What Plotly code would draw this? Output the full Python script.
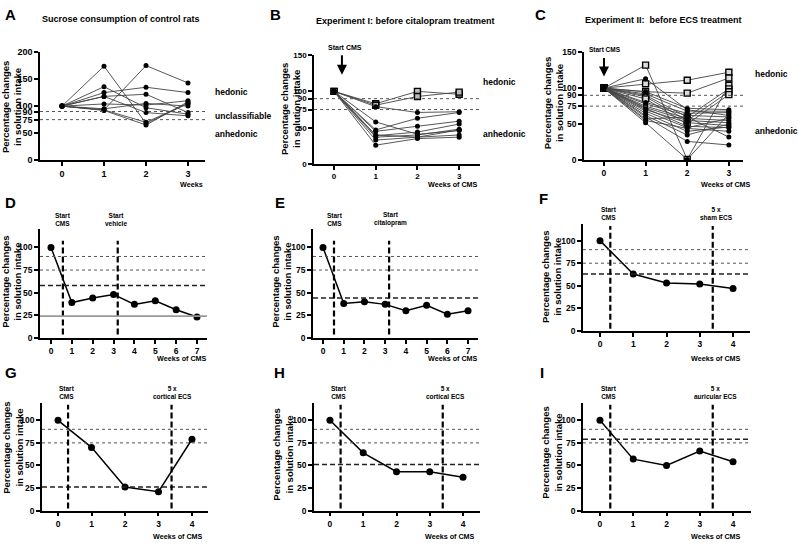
import plotly.graph_objects as go

# ---- data ----
weeks_abc = [0, 1, 2, 3]
ctrl_rats = [
    [100, 174, 68, 105], [100, 93, 175, 143], [100, 136, 97, 85], [100, 125, 135, 125],
    [100, 118, 122, 88], [100, 104, 102, 110], [100, 95, 105, 100], [100, 92, 65, 108],
    [100, 93, 70, 105], [100, 118, 88, 82],
]
exp1_hedonic = [[100, 83, 100, 96], [100, 81, 93, 99]]
exp1_anhedonic = [
    [100, 79, 71, 72], [100, 58, 41, 46], [100, 47, 63, 71], [100, 45, 52, 59],
    [100, 39, 44, 55], [100, 37, 40, 48], [100, 33, 37, 40], [100, 26, 35, 37],
    [100, 40, 37, 47],
]
exp2_hedonic = [
    [100, 132, 1, 104], [100, 106, 111, 122], [100, 95, 93, 114],
    [100, 90, 60, 99], [100, 88, 55, 95], [100, 85, 50, 91],
]
exp2_anhedonic = [
    [100, 113, 70, 62], [100, 95, 72, 70], [100, 92, 68, 68], [100, 80, 65, 66],
    [100, 78, 62, 60], [100, 75, 58, 55], [100, 73, 55, 52], [100, 72, 47, 45],
    [100, 70, 52, 48], [100, 68, 45, 58], [100, 65, 40, 46], [100, 62, 35, 50],
    [100, 60, 26, 21], [100, 57, 60, 32], [100, 55, 44, 40], [100, 52, 1, 64],
]

weeks_de = [0, 1, 2, 3, 4, 5, 6, 7]
vehicle = [100, 39, 44, 48, 37, 41, 31, 23]
citalopram = [100, 38, 40, 37, 30, 36, 26, 30]
weeks_fi = [0, 1, 2, 3, 4]
sham_ecs = [100, 63, 53, 52, 47]
cortical_g = [100, 70, 26, 21, 79]
cortical_h = [100, 64, 43, 43, 37]
auricular = [100, 57, 50, 66, 54]

# cut-off (dashed) levels and start of treatment
cutoffs = {"D": 58, "E": 44, "F": 63, "G": 26, "H": 51, "I": 79}
start_cms = {"D": 0.57, "E": 0.53, "F": 0.31, "G": 0.3, "H": 0.32, "I": 0.31}
start_treat = {"D": 3.2, "E": 3.19, "F": 3.39, "G": 3.39, "H": 3.39, "I": 3.39}
treat_label = {"D": "Start<br>vehicle", "E": "Start<br>citalopram", "F": "5 x<br>sham ECS",
               "G": "5 x<br>cortical ECS", "H": "5 x<br>cortical ECS", "I": "5 x<br>auricular ECS"}

W, H = 798, 547
FONT = "Liberation Sans, Arial, sans-serif"

def px(x):
    return x / W

def py(y):
    return 1 - y / H

# pixel boxes: (left, right, top, bottom), x-range, y-range
panels = {
    "A": ((40, 205, 48, 158), [-0.524, 3.405], [0, 200]),
    "B": ((314, 480, 51, 162), [-0.48, 3.50], [0, 150]),
    "C": ((584, 743, 48, 158), [-0.48, 3.34], [0, 150]),
    "D": ((40, 207, 228, 339), [-0.527, 7.48], [0, 120.6]),
    "E": ((313, 478, 228, 339), [-0.483, 7.48], [0, 120.6]),
    "F": ((583, 750, 223, 332), [-0.511, 4.51], [0, 118.5]),
    "G": ((42, 208, 405, 515), [-0.478, 4.478], [0, 119.6]),
    "H": ((314, 480, 405, 515), [-0.48, 4.51], [0, 119.6]),
    "I": ((583, 751, 405, 515), [-0.51, 4.54], [0, 119.6]),
}
tick_size = {"A": 9, "B": 8, "C": 8.5}
order = ["A", "B", "C", "D", "E", "F", "G", "H", "I"]

fig = go.Figure()
layout = dict(width=W, height=H, margin=dict(l=0, r=0, t=0, b=0),
              paper_bgcolor="white", plot_bgcolor="white", showlegend=False,
              font=dict(family=FONT, color="black"))
shapes, annots = [], []

for i, key in enumerate(order):
    n = "" if i == 0 else str(i + 1)
    (l, r, t, b), xr, yr = panels[key]
    small = key not in "ABC"
    tickfont = dict(family=FONT, size=tick_size.get(key, 8.5), color="black", weight="bold")
    if small:
        xt = weeks_de if key in "DE" else weeks_fi
        yt = [0, 25, 50, 75, 100]
    else:
        xt = weeks_abc
        yt = [0, 50, 75, 90, 100, 150] + ([200] if key == "A" else [])
    layout["xaxis" + n] = dict(domain=[px(l), px(r)], range=xr, anchor="y" + n,
                               tickvals=xt, showgrid=False, zeroline=False, showline=True,
                               linecolor="black", linewidth=1.5, ticks="outside", ticklen=4,
                               tickwidth=1.5, tickcolor="black", tickfont=tickfont)
    layout["yaxis" + n] = dict(domain=[py(b), py(t)], range=yr, anchor="x" + n,
                               tickvals=yt, showgrid=False, zeroline=False, showline=True,
                               linecolor="black", linewidth=1.5, ticks="outside", ticklen=4,
                               tickwidth=1.5, tickcolor="black", tickfont=tickfont)
    xref, yref = "x" + n, "y" + n
    # dotted 90 / 75 reference lines
    for lvl in (90, 75):
        shapes.append(dict(type="line", xref=xref + " domain", yref=yref, x0=0, x1=1,
                           y0=lvl, y1=lvl, line=dict(color="#555", width=1, dash="dot")))
    if small:
        shapes.append(dict(type="line", xref=xref + " domain", yref=yref, x0=0, x1=1,
                           y0=cutoffs[key], y1=cutoffs[key],
                           line=dict(color="#222", width=1.5, dash="5px,3px")))
        y0d, y1d = (0.03, 0.89) if key in "DE" else (0.02, 0.98)
        for xv in (start_cms[key], start_treat[key]):
            shapes.append(dict(type="line", xref=xref, yref=yref + " domain", x0=xv, x1=xv,
                               y0=y0d, y1=y1d, line=dict(color="black", width=2.2, dash="6px,3px")))

# ---- A/B/C spaghetti plots ----
def rats(rows, n, symbol, size, fill):
    for row in rows:
        fig.add_trace(go.Scatter(x=weeks_abc, y=row, xaxis="x" + n, yaxis="y" + n,
                                 mode="lines+markers",
                                 line=dict(color="#444", width=0.9),
                                 marker=dict(symbol=symbol, size=size, color=fill,
                                             line=dict(color="black", width=1.4 if symbol == "square" else 0))))

rats(ctrl_rats, "", "circle", 5, "black")
rats(exp1_hedonic, "2", "square", 6, "#bbb")
rats(exp1_anhedonic, "2", "circle", 5, "black")
rats(exp2_hedonic, "3", "square", 6, "#ddd")
rats(exp2_anhedonic, "3", "circle", 5, "black")

# ---- D-I time courses ----
series = {"D": (weeks_de, vehicle), "E": (weeks_de, citalopram), "F": (weeks_fi, sham_ecs),
          "G": (weeks_fi, cortical_g), "H": (weeks_fi, cortical_h), "I": (weeks_fi, auricular)}
for i, key in enumerate(order[3:], start=4):
    xs, ys = series[key]
    fig.add_trace(go.Scatter(x=xs, y=ys, xaxis="x%d" % i, yaxis="y%d" % i, mode="lines+markers",
                             line=dict(color="black", width=1.5),
                             marker=dict(size=7, color="black")))
# grey solid line in D at last value
shapes.append(dict(type="line", xref="x4 domain", yref="y4", x0=0, x1=1, y0=24, y1=24,
                   line=dict(color="#999", width=1.8)))

# ---- text ----
def txt(x, y, s, size, bold=True, xanchor="center", yanchor="middle", angle=0):
    annots.append(dict(xref="paper", yref="paper", x=px(x), y=py(y), text=s, showarrow=False,
                       xanchor=xanchor, yanchor=yanchor, textangle=angle,
                       font=dict(family=FONT, size=size, color="black",
                                 weight="bold" if bold else "normal")))

letters = {"A": (3, 10), "B": (268, 10), "C": (533, 10), "D": (3, 201), "E": (273, 201),
           "F": (537, 197), "G": (3, 374), "H": (272, 374), "I": (538, 374)}
for k, (x, y) in letters.items():
    txt(x, y, k, 15, xanchor="left")

txt(121, 14, "Sucrose consumption of control rats", 9)
txt(405, 16, "Experiment I: before citalopram treatment", 9)
txt(663, 15, "Experiment II:  before ECS treatment", 9)

ytitle = "Percentage changes<br>in solution intake"
for x, y in [(11, 104), (290, 106), (553, 100), (12, 282), (282, 282), (552, 277),
             (13, 451), (283, 458), (552, 456)]:
    txt(x, y, ytitle, 9.5, angle=-90)

txt(213, 89, "hedonic", 8.5, xanchor="left")
txt(213, 113, "unclassifiable", 8.5, xanchor="left")
txt(213, 131, "anhedonic", 8.5, xanchor="left")
txt(481, 78, "hedonic", 8.5, xanchor="left")
txt(481, 131, "anhedonic", 8.5, xanchor="left")
txt(753, 70, "hedonic", 8.5, xanchor="left")
txt(753, 128, "anhedonic", 8.5, xanchor="left")

txt(205, 183, "Weeks", 7.2, xanchor="right")
for x, y in [(480, 183), (753, 183), (209, 360), (480, 360), (743, 360),
             (205, 541), (477, 541), (743, 541)]:
    txt(x, y, "Weeks of CMS", 7.2, xanchor="right")

# Start CMS arrows in B and C
txt(345, 43, "Start CMS", 7)
txt(605, 45, "Start CMS", 6.5)
annots.append(dict(xref="x2", yref="y2", x=0.19, y=123, ax=0, ay=-21, text="", showarrow=True,
                   arrowhead=2, arrowsize=1, arrowwidth=2, arrowcolor="black"))
annots.append(dict(xref="x3", yref="y3", x=0, y=116, ax=0, ay=-20, text="", showarrow=True,
                   arrowhead=2, arrowsize=1, arrowwidth=2, arrowcolor="black"))

# labels above the vertical dashed lines
cms_pos = {"D": (63, 218), "E": (335, 218), "F": (609, 212), "G": (67, 395),
           "H": (339, 395), "I": (609, 395)}
treat_pos = {"D": (116, 218), "E": (390, 218), "F": (716, 212), "G": (172, 395),
             "H": (445, 395), "I": (715, 395)}
for k in "DEFGHI":
    txt(*cms_pos[k], "Start<br>CMS", 6.5)
    txt(*treat_pos[k], treat_label[k], 6.5)

layout["shapes"] = shapes
layout["annotations"] = annots
fig.update_layout(**layout)
fig.write_html("out.html", config={"displayModeBar": False},
               post_script="document.body.style.margin='0px';")
